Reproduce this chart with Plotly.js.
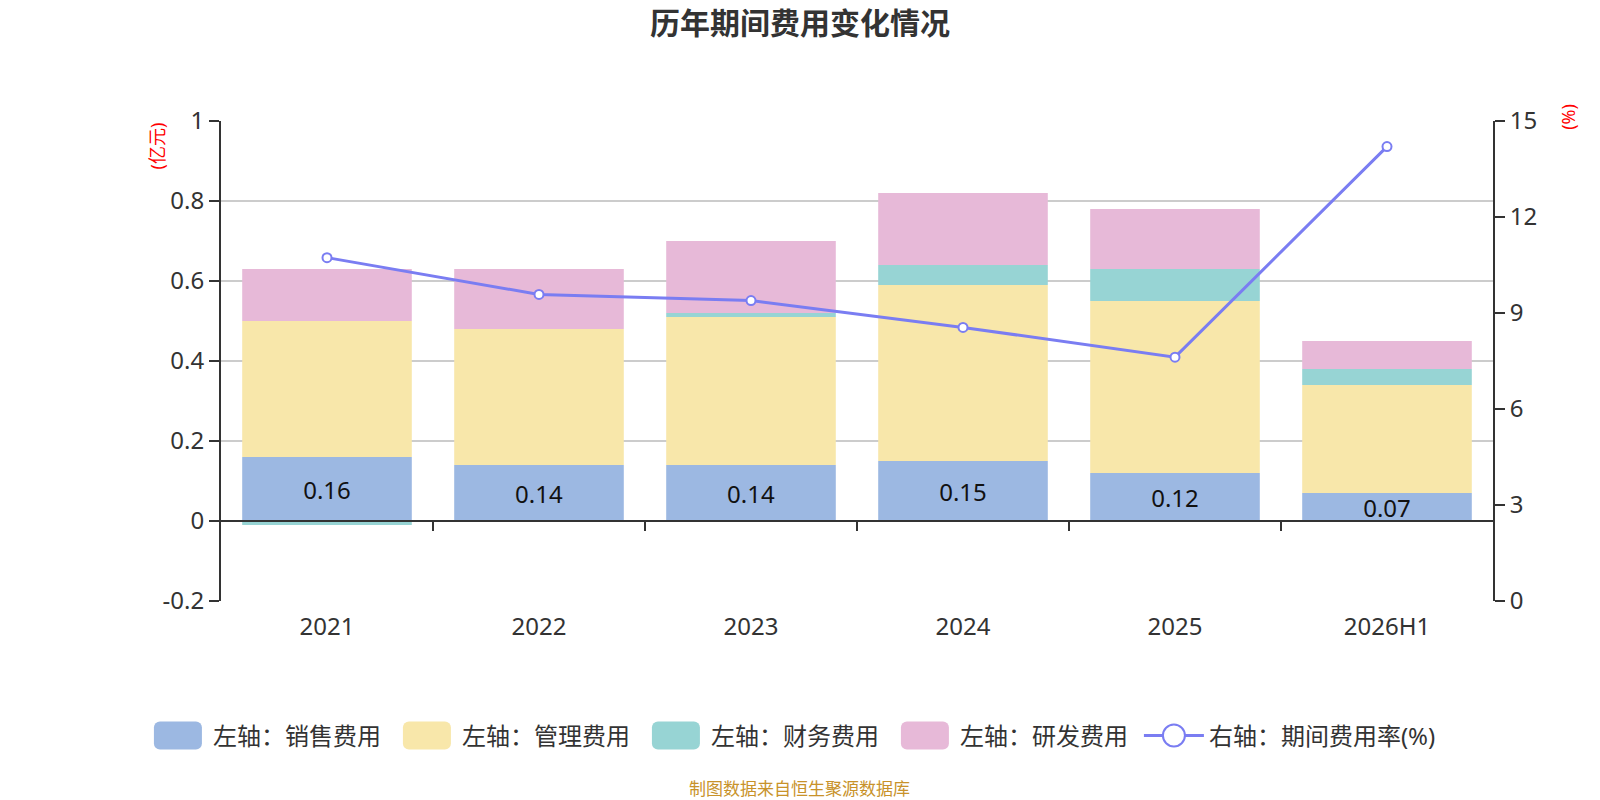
<!DOCTYPE html>
<html>
<head>
<meta charset="utf-8">
<script src="https://cdn.plot.ly/plotly-3.0.1.min.js"></script>
<style>
  html, body { margin: 0; padding: 0; background: #fff; }
  #chart { width: 1600px; height: 800px; }
</style>
</head>
<body>
<div id="chart"></div>
<script>
/* 历年期间费用变化情况 — stacked expense bars + expense-rate line */

const YEARS = ['2021', '2022', '2023', '2024', '2025', '2026H1'];
const SALES = [0.16, 0.14, 0.14, 0.15, 0.12, 0.07];      // 销售费用 (亿元)
const ADMIN = [0.34, 0.34, 0.37, 0.44, 0.43, 0.27];      // 管理费用
const FINANCE = [-0.01, 0.0, 0.01, 0.05, 0.08, 0.04];    // 财务费用
const RND = [0.13, 0.15, 0.18, 0.18, 0.15, 0.07];        // 研发费用
const RATE = [10.73, 9.58, 9.39, 8.55, 7.62, 14.2];      // 期间费用率 (%)
const LEFT_TICKS = [-0.2, 0, 0.2, 0.4, 0.6, 0.8, 1];
const RIGHT_TICKS = [0, 3, 6, 9, 12, 15];

const COLORS = {
  sales: '#9cb8e2', admin: '#f8e7aa', finance: '#97d4d4', rnd: '#e7b9d8', rate: '#7a7df2',
};
const FONT = 'Noto Sans, "Noto Sans CJK SC", sans-serif';
const INK = '#333333';

function bar(name, y, color, extra) {
  return Object.assign({
    type: 'bar', name: name, x: YEARS, y: y,
    marker: { color: color, line: { width: 0 } },
    hoverinfo: 'x+y+name',
  }, extra || {});
}

const traces = [
  bar('左轴：销售费用', SALES, COLORS.sales, {
    text: SALES.map(v => v.toFixed(2)), textposition: 'inside',
    insidetextanchor: 'middle', constraintext: 'none',
    textfont: { color: '#111', size: 24, family: FONT },
  }),
  bar('左轴：管理费用', ADMIN, COLORS.admin),
  bar('左轴：财务费用', FINANCE, COLORS.finance),
  bar('左轴：研发费用', RND, COLORS.rnd),
  {
    type: 'scatter', mode: 'lines+markers', name: '右轴：期间费用率(%)',
    x: YEARS, y: RATE, yaxis: 'y2',
    line: { color: COLORS.rate, width: 3 },
    marker: { symbol: 'circle', size: 9, color: '#fff', line: { color: COLORS.rate, width: 2 } },
  },
  // helper so the zero-line axis (x2) gets drawn
  { type: 'scatter', x: [], y: [], xaxis: 'x2', showlegend: false, hoverinfo: 'skip' },
];

const Y_MIN = LEFT_TICKS[0], Y_MAX = LEFT_TICKS[LEFT_TICKS.length - 1];
const zeroPos = (0 - Y_MIN) / (Y_MAX - Y_MIN);
const boundaries = YEARS.slice(1).map((_, i) => i + 0.5);

const axisInk = {
  showline: true, linecolor: INK, linewidth: 2,
  ticks: 'outside', ticklen: 10, tickwidth: 2, tickcolor: INK,
  zeroline: false, tickfont: { size: 24, color: INK },
};

const layout = {
  width: 1600, height: 800,
  paper_bgcolor: '#fff', plot_bgcolor: '#fff',
  font: { family: FONT, color: INK, size: 22 },
  margin: { l: 221, r: 107, t: 121, b: 199 },
  barmode: 'relative', bargap: 0.2,
  title: {
    text: '<b>历年期间费用变化情况</b>', x: 0.5, xref: 'container', xanchor: 'center',
    y: 1 - 23 / 800, yref: 'container', yanchor: 'middle',
    font: { size: 30, color: INK, family: FONT },
  },
  xaxis: {
    type: 'category', showline: false, showgrid: false, zeroline: false,
    ticks: '', ticklabelstandoff: 9, tickfont: { size: 24, color: INK },
  },
  xaxis2: {
    overlaying: 'x', anchor: 'free', position: zeroPos,
    range: [-0.5, YEARS.length - 0.5], tickvals: boundaries,
    showticklabels: false, ticks: 'outside', ticklen: 9, tickwidth: 2, tickcolor: INK,
    showline: true, linecolor: INK, linewidth: 2, showgrid: false, zeroline: false,
  },
  yaxis: Object.assign({}, axisInk, {
    range: [Y_MIN, Y_MAX], tickvals: LEFT_TICKS, ticktext: LEFT_TICKS.map(String),
    gridcolor: '#cccccc', gridwidth: 1.5,
  }),
  yaxis2: Object.assign({}, axisInk, {
    overlaying: 'y', side: 'right', range: [0, 15],
    tickvals: RIGHT_TICKS, ticktext: RIGHT_TICKS.map(String), showgrid: false,
  }),
  showlegend: true,
  legend: {
    orientation: 'h', x: 0.428, xanchor: 'center', y: -0.281, yanchor: 'middle',
    font: { size: 24, color: INK }, itemwidth: 60, entrywidth: 174, traceorder: 'normal',
  },
  annotations: [
    {
      text: '(亿元)', xref: 'paper', yref: 'paper', x: -0.061, y: 1.001,
      textangle: -90, showarrow: false, font: { size: 18, color: '#ff0000' },
    },
    {
      text: '(%)', xref: 'paper', yref: 'paper', x: 1.07, y: 1.04,
      textangle: -90, showarrow: false, font: { size: 18, color: '#ff0000' },
    },
    {
      text: '制图数据来自恒生聚源数据库', xref: 'paper', yref: 'paper', x: 0.455, y: -0.419,
      showarrow: false, font: { size: 17, color: '#c8922a' },
    },
  ],
};

// bigger rounded swatches + big open circle in the legend, like the source chart
function restyleLegend(gd) {
  const box = gd.querySelector('.legend .scrollbox');
  if (box) box.removeAttribute('clip-path');   // last label is wider than entrywidth
  const items = gd.querySelectorAll('.legend .traces');
  items.forEach((g, i) => {
    const pts = g.querySelector('.legendpoints');
    if (!pts) return;
    if (i < 4) {
      const p = pts.querySelector('path');
      if (p) p.setAttribute('d', 'M-18,-14H18A6,6 0 0 1 24,-8V8A6,6 0 0 1 18,14H-18A6,6 0 0 1 -24,8V-8A6,6 0 0 1 -18,-14Z');
    } else {
      const line = pts.querySelector('path.js-line');
      if (line) line.setAttribute('d', 'M-24,0h48');
      const dot = pts.querySelector('path.scatterpts');
      if (dot) {
        dot.setAttribute('d', 'M11,0A11,11 0 1,1 0,-11A11,11 0 0,1 11,0Z');
        dot.style.strokeWidth = '2px';
      }
    }
  });
}

Plotly.newPlot('chart', traces, layout, { displayModeBar: false, staticPlot: true })
  .then(restyleLegend);
</script>
</body>
</html>
